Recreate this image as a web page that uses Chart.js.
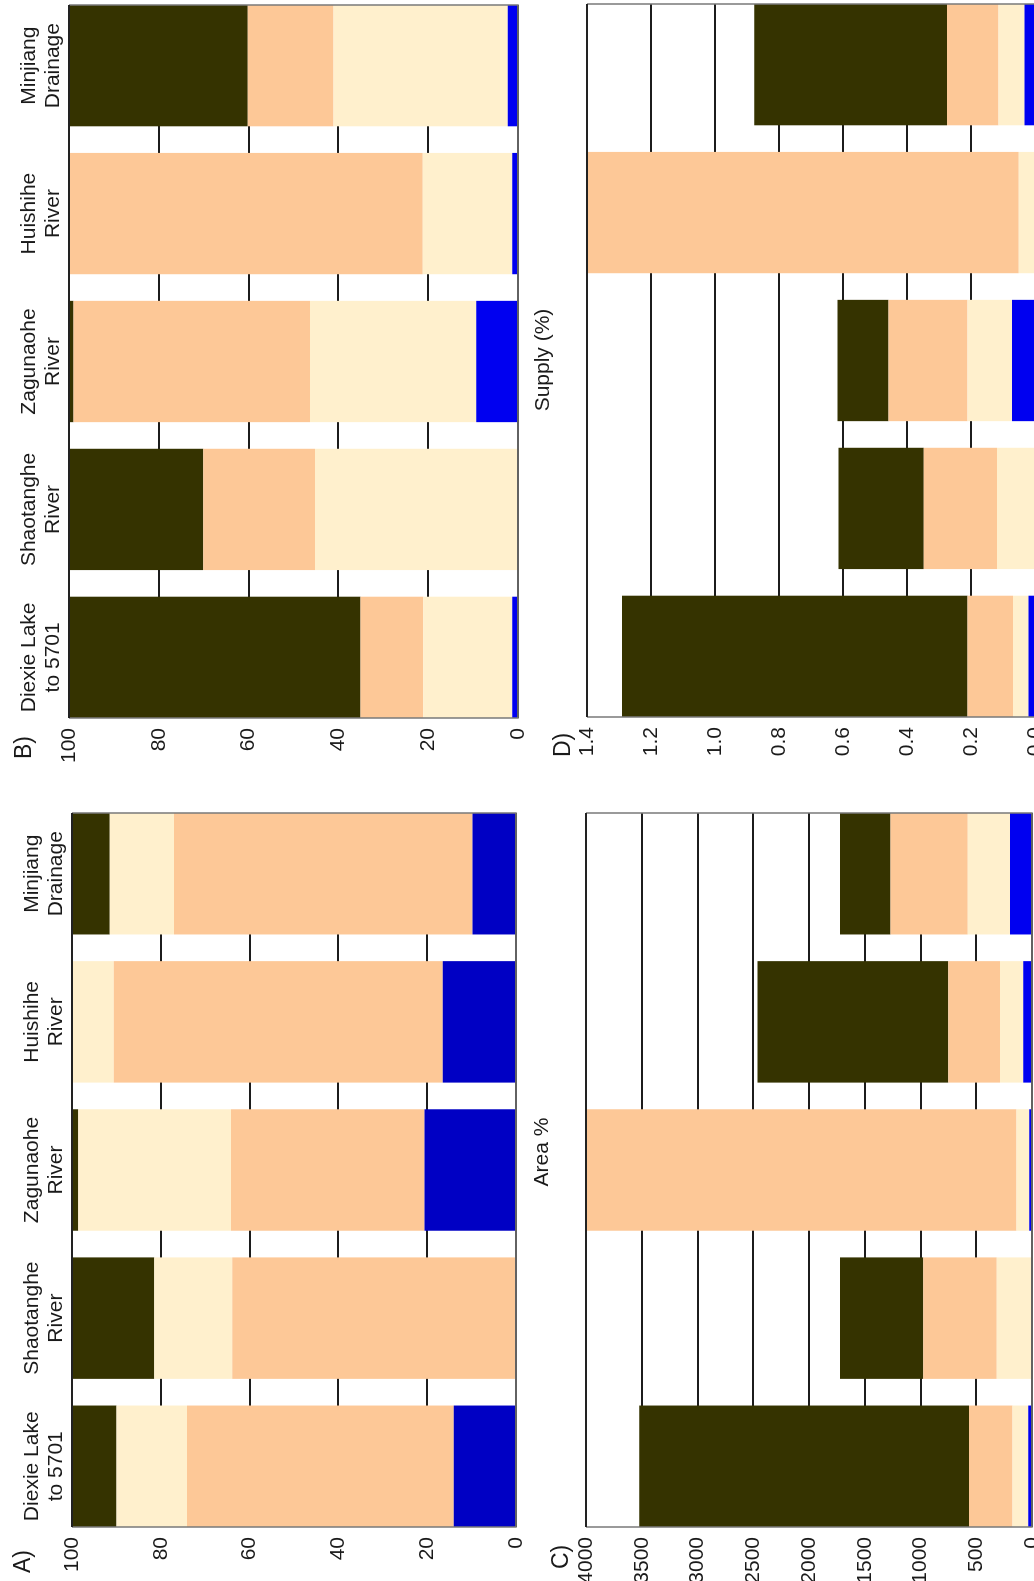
<!DOCTYPE html>
<html><head><meta charset="utf-8">
<script src="https://cdn.jsdelivr.net/npm/chart.js"></script>
<style>
html,body{margin:0;padding:0;width:1034px;height:1581px;overflow:hidden;background:#fff;}
#fig{position:absolute;left:0;top:0;width:1581px;height:1034px;overflow:hidden;transform-origin:0 0;transform:translateY(1581px) rotate(-90deg);background:#fff;font-family:'Liberation Sans',Arial,sans-serif;color:#1a1a1a;}
canvas{position:absolute;}
.lbl{position:absolute;white-space:nowrap;}
</style></head><body>
<div id="fig">
  <canvas id="cA" width="790" height="545" style="left:0px;top:0px"></canvas>
  <canvas id="cB" width="790" height="545" style="left:808px;top:0px"></canvas>
  <canvas id="cC" width="790" height="600" style="left:0px;top:500px"></canvas>
  <canvas id="cD" width="790" height="600" style="left:808px;top:500px"></canvas>
  <div class="lbl" style="left:8px;top:11px;font-size:23px;line-height:23px">A)</div>
  <div class="lbl" style="left:822px;top:12px;font-size:23px;line-height:23px">B)</div>
  <div class="lbl" style="left:12px;top:549px;font-size:23px;line-height:23px">C)</div>
  <div class="lbl" style="left:824px;top:551px;font-size:23px;line-height:23px">D)</div>
  <div class="lbl" style="left:329px;top:530px;width:200px;text-align:center;font-size:21px;line-height:21px">Area %</div>
  <div class="lbl" style="left:1121px;top:531px;width:200px;text-align:center;font-size:21px;line-height:21px">Supply (%)</div>
</div>
<script>
// ---- data ----
const categories = ['Diexie Lake to 5701', 'Shaotanghe River', 'Zagunaohe River', 'Huishihe River', 'Minjiang Drainage'];
const categoryLines = [['Diexie Lake', 'to 5701'], ['Shaotanghe', 'River'], ['Zagunaohe', 'River'], ['Huishihe', 'River'], ['Minjiang', 'Drainage']];

// A) Area %
const areaBlue  = [14.0, 0.0, 20.6, 16.5, 9.8];
const areaPeach = [60.1, 63.9, 43.6, 74.1, 67.2];
const areaCream = [15.9, 17.6, 34.4, 9.4, 14.5];
const areaDark  = [10.0, 18.5, 1.4, 0.0, 8.5];

// B) Supply (%)
const supplyBlue  = [1.3, 0.0, 9.3, 1.3, 2.3];
const supplyCream = [19.8, 45.2, 37.0, 19.9, 38.8];
const supplyPeach = [14.0, 24.9, 52.7, 78.8, 19.1];
const supplyDark  = [64.9, 29.9, 1.0, 0.0, 39.8];

// C) area
const cBlue  = [34, 0, 25, 79, 198];
const cCream = [140, 317, 113, 209, 379];
const cPeach = [392, 659, 3862, 463, 691];
const cDark  = [2956, 746, 0, 1710, 454];

// D) supply
const dBlue  = [0.020, 0.000, 0.072, 0.000, 0.033];
const dCream = [0.049, 0.119, 0.139, 0.051, 0.081];
const dPeach = [0.142, 0.229, 0.247, 1.350, 0.161];
const dDark  = [1.080, 0.266, 0.159, 0.000, 0.602];

// axis ticks
const ticksAB = { max: 100, step: 20 };
const ticksC = { max: 4000, step: 500 };
const ticksD = { max: 1.4, step: 0.2 };

// ---- styles ----
const FONT = "'Liberation Sans', Arial, sans-serif";
const DARK = '#353300', PEACH = '#FDC897', CREAM = '#FFF0CD', BLUE_A = '#0000C4', BLUE = '#0000F0';

const framePlugin = {
  id: 'frame',
  afterDatasetsDraw(chart) {
    const { ctx, chartArea: { left, top, right, bottom } } = chart;
    ctx.save();
    ctx.strokeStyle = '#7a7a7a';
    ctx.lineWidth = 1.5;
    ctx.beginPath();
    ctx.moveTo(left, top); ctx.lineTo(left, bottom); ctx.lineTo(right, bottom); ctx.lineTo(right, top);
    ctx.stroke();
    ctx.strokeStyle = '#222';
    ctx.lineWidth = 2;
    ctx.beginPath();
    ctx.moveTo(left, top); ctx.lineTo(right, top);
    ctx.stroke();
    ctx.restore();
  }
};

function makeChart(id, series, axis, opt) {
  const datasets = series.map(s => ({
    data: s.data.map((v, i) => ({ x: i, y: v })),
    backgroundColor: s.color,
    borderWidth: 0,
    barPercentage: 0.82,
    categoryPercentage: 1.0
  }));
  const xScale = {
    type: 'linear', position: 'top', bounds: 'data', offset: false,
    min: -0.41, max: categories.length - 1 + 0.41, stacked: true,
    display: opt.showLabels,
    grid: { display: false, offset: false }, border: { display: false },
    afterBuildTicks: s => { s.ticks = categories.map((_, i) => ({ value: i })); },
    ticks: {
      autoSkip: false, maxRotation: 0, minRotation: 0, padding: -4, color: '#1a1a1a',
      font: { family: FONT, size: 21, lineHeight: 1.15 },
      callback: v => categoryLines[v]
    }
  };
  if (opt.showLabels) xScale.afterFit = s => { s.height = opt.xHeight; };
  new Chart(document.getElementById(id), {
    type: 'bar',
    data: { datasets },
    options: {
      responsive: false, animation: false,
      layout: { padding: opt.padding },
      plugins: { legend: { display: false }, tooltip: { enabled: false } },
      scales: {
        x: xScale,
        y: {
          min: 0, max: axis.max, stacked: true,
          ticks: { stepSize: axis.step, padding: 10, color: '#1a1a1a', font: { family: FONT, size: 21 },
                   callback: opt.fmt },
          grid: { color: '#1c1c1c', lineWidth: 2, drawTicks: false },
          border: { display: false },
          afterFit: s => { s.width = opt.yWidth; }
        }
      }
    },
    plugins: [framePlugin]
  });
}

makeChart('cA', [
  { data: areaBlue, color: BLUE_A }, { data: areaPeach, color: PEACH },
  { data: areaCream, color: CREAM }, { data: areaDark, color: DARK }
], ticksAB, { showLabels: true, xHeight: 72, yWidth: 54, padding: { left: 0, top: 0, right: 22, bottom: 29 }, fmt: v => String(v) });

makeChart('cB', [
  { data: supplyBlue, color: BLUE }, { data: supplyCream, color: CREAM },
  { data: supplyPeach, color: PEACH }, { data: supplyDark, color: DARK }
], ticksAB, { showLabels: true, xHeight: 69, yWidth: 55, padding: { left: 0, top: 0, right: 22, bottom: 27 }, fmt: v => String(v) });

makeChart('cC', [
  { data: cBlue, color: BLUE }, { data: cCream, color: CREAM },
  { data: cPeach, color: PEACH }, { data: cDark, color: DARK }
], ticksC, { showLabels: false, yWidth: 54, padding: { left: 0, top: 86, right: 22, bottom: 68 }, fmt: v => String(v) });

makeChart('cD', [
  { data: dBlue, color: BLUE }, { data: dCream, color: CREAM },
  { data: dPeach, color: PEACH }, { data: dDark, color: DARK }
], ticksD, { showLabels: false, yWidth: 56, padding: { left: 0, top: 87, right: 21, bottom: 65 }, fmt: v => Number(v).toFixed(1) });
</script>
</body></html>
